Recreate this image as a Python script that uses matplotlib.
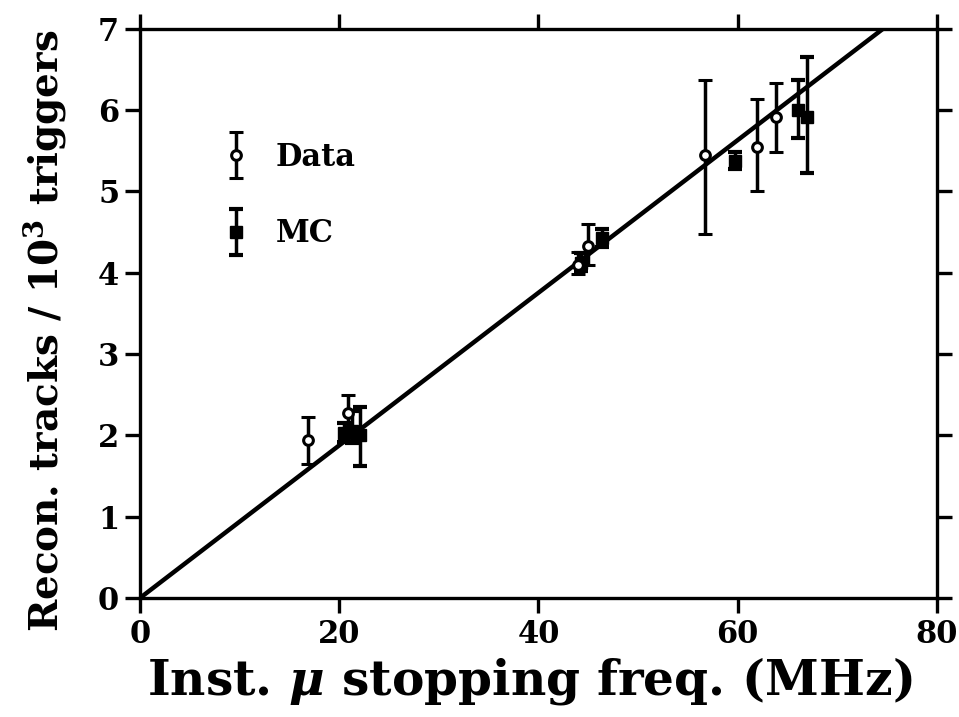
'''
Reconstructed tracks vs instantaneous muon stopping frequency
'''

import numpy as np
import matplotlib.pyplot as plt
from matplotlib.legend_handler import HandlerErrorbar
from matplotlib.container import ErrorbarContainer

# measured points
data_freq = [16.9, 20.9, 44.0, 45.0, 56.7, 61.9, 63.8]
data_val = [1.94, 2.27, 4.10, 4.33, 5.45, 5.55, 5.92]
data_lo = [1.65, 2.05, 3.98, 4.10, 4.47, 5.00, 5.48]
data_hi = [2.22, 2.49, 4.25, 4.60, 6.37, 6.13, 6.33]

# Monte Carlo points
mc_freq = [20.5, 21.3, 22.1, 44.3, 46.4, 59.7, 66.1, 67.0]
mc_val = [2.03, 2.05, 2.00, 4.12, 4.43, 5.37, 6.00, 5.92]
mc_lo = [1.92, 1.90, 1.62, 4.02, 4.32, 5.27, 5.66, 5.23]
mc_hi = [2.15, 2.30, 2.35, 4.24, 4.54, 5.48, 6.37, 6.65]

# straight line fit through origin
fit_slope = 7.0 / 74.6

plt.rcParams['font.family'] = ['DejaVu Serif']
plt.rcParams['font.weight'] = 'bold'
plt.rcParams['mathtext.fontset'] = 'dejavuserif'

fig = plt.figure(figsize=(9.59, 7.17), dpi=100, facecolor='white')
ax = fig.add_axes([0.146, 0.166, 0.831, 0.794])

fx = np.array([0, 80])
ax.plot(fx, fit_slope * fx, color='black', lw=3.2, zorder=2)

def errs(val, lo, hi):
    val = np.array(val)
    return np.vstack([val - np.array(lo), np.array(hi) - val])

h_data = ax.errorbar(data_freq, data_val, yerr=errs(data_val, data_lo, data_hi),
                     fmt='o', ms=7, mfc='white', mec='black', mew=2.2,
                     ecolor='black', elinewidth=2.5, capsize=5, capthick=3,
                     zorder=4)
h_mc = ax.errorbar(mc_freq, mc_val, yerr=errs(mc_val, mc_lo, mc_hi),
                   fmt='s', ms=9, mfc='black', mec='black',
                   ecolor='black', elinewidth=2.5, capsize=5, capthick=3,
                   zorder=3)

leg = ax.legend([h_data, h_mc], ['Data', 'MC'], loc='upper left',
                bbox_to_anchor=(0.074, 0.85), frameon=False, handlelength=0.6,
                handletextpad=1.0, labelspacing=1.5, fontsize=22,
                handler_map={ErrorbarContainer: HandlerErrorbar(yerr_size=0.75)})

ax.set_xlim(0, 80)
ax.set_ylim(0, 7)
ax.set_xticks([0, 20, 40, 60, 80])
ax.set_yticks(range(8))
for sp in ax.spines.values():
    sp.set_linewidth(2.4)
ax.tick_params(direction='out', length=11, width=2.4, labelsize=22,
               top=True, right=True, pad=4)
for lab in ax.get_xticklabels() + ax.get_yticklabels():
    lab.set_fontweight('bold')

ax.set_xlabel(r'Inst. $\mu$ stopping freq. (MHz)', fontsize=35,
              fontweight='bold')
ax.set_ylabel(r'Recon. tracks / 10$^3$ triggers', fontsize=28,
              fontweight='bold')
ax.xaxis.set_label_coords(0.489, -0.1)
ax.yaxis.set_label_coords(-0.09, 0.47)

fig.savefig('out.png', dpi=100, facecolor='white')
